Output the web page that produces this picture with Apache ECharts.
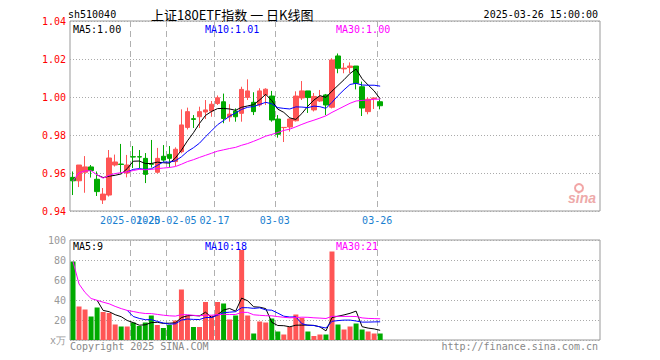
<!DOCTYPE html>
<html><head><meta charset="utf-8">
<script src="https://cdn.jsdelivr.net/npm/echarts@6/dist/echarts.min.js"></script>
<style>html,body{margin:0;padding:0;background:#fff}#c{width:660px;height:360px}</style>
</head><body><div id="c"></div>
<script>
// ---- data ----
const dates = ['2025-01-06','2025-01-07','2025-01-08','2025-01-09','2025-01-10','2025-01-13','2025-01-14','2025-01-15','2025-01-16','2025-01-17',
  '2025-01-20','2025-01-21','2025-01-22','2025-01-23','2025-01-24','2025-01-27',
  '2025-02-05','2025-02-06','2025-02-07','2025-02-10','2025-02-11','2025-02-12','2025-02-13','2025-02-14','2025-02-17','2025-02-18',
  '2025-02-19','2025-02-20','2025-02-21','2025-02-24','2025-02-25','2025-02-26','2025-02-27','2025-02-28',
  '2025-03-03','2025-03-04','2025-03-05','2025-03-06','2025-03-07','2025-03-10','2025-03-11','2025-03-12','2025-03-13','2025-03-14',
  '2025-03-17','2025-03-18','2025-03-19','2025-03-20','2025-03-21','2025-03-24','2025-03-25','2025-03-26'];
const opens = [0.9577,0.9559,0.9604,0.9632,0.9567,0.9458,0.9484,0.9642,0.9647,0.9600,
  0.9686,0.9686,0.9677,0.9648,0.9604,0.9688,0.9698,0.9660,0.9712,0.9840,
  0.9886,0.9896,0.9921,0.9926,0.9966,0.9975,0.9895,0.9926,0.9914,0.9998,
  0.9972,0.9958,1.0011,1.0005,0.9884,0.9839,0.9842,0.9875,0.9995,1.0032,
  0.9932,0.9979,1.0011,0.9946,1.0216,1.0148,1.0155,1.0163,1.0054,0.9923,
  0.9992,0.9975];
const closes = [0.9559,0.9642,0.9632,0.9613,0.9502,0.9489,0.9679,0.9658,0.9645,0.9642,
  0.9684,0.9684,0.9593,0.9646,0.9677,0.9668,0.9677,0.9725,0.9853,0.9923,
  0.9882,0.9923,0.9932,0.9962,0.9996,0.9887,0.9910,0.9896,1.0040,1.0032,
  0.9923,1.0032,1.0041,0.9879,0.9804,0.9840,0.9884,1.0005,1.0032,0.9997,
  1.0003,1.0000,0.9958,1.0195,1.0151,1.0152,1.0163,1.0072,0.9942,0.9988,
  0.9995,0.9954];
const lows = [0.9484,0.9526,0.9496,0.9576,0.9479,0.9437,0.9476,0.9634,0.9598,0.9577,
  0.9626,0.9626,0.9547,0.9629,0.9598,0.9659,0.9629,0.9637,0.9704,0.9829,
  0.9837,0.9837,0.9884,0.9896,0.9958,0.9862,0.9870,0.9870,0.9870,0.9984,
  0.9905,0.9949,0.9958,0.9870,0.9786,0.9763,0.9818,0.9871,0.9984,0.9916,
  0.9924,0.9974,0.9905,0.9940,1.0125,1.0125,1.0125,1.0040,0.9900,0.9909,
  0.9937,0.9935];
const highs = [0.9608,0.9642,0.9689,0.9642,0.9608,0.9521,0.9721,0.9697,0.9753,0.9695,
  0.9742,0.9721,0.9705,0.9774,0.9732,0.9747,0.9742,0.9735,0.9935,0.9944,
  0.9905,0.9949,0.9984,0.9979,1.0008,1.0018,0.9962,0.9940,1.0054,1.0093,
  1.0025,1.0046,1.0046,1.0032,0.9905,0.9840,0.9887,1.0030,1.0084,1.0032,
  1.0021,1.0037,1.0016,1.0204,1.0229,1.0179,1.0182,1.0163,1.0081,0.9998,
  0.9995,0.9988];
const ma5 = [null,null,null,null,0.9590,0.9576,0.9583,0.9588,0.9595,0.9623,
  0.9662,0.9663,0.9650,0.9650,0.9657,0.9654,0.9652,0.9679,0.9720,0.9769,
  0.9812,0.9861,0.9903,0.9924,0.9939,0.9940,0.9937,0.9930,0.9946,0.9953,
  0.9960,0.9985,1.0014,0.9981,0.9936,0.9919,0.9890,0.9882,0.9913,0.9952,
  0.9984,1.0007,0.9998,1.0031,1.0061,1.0091,1.0124,1.0147,1.0096,1.0063,
  1.0032,0.9990];
const ma10 = [null,null,null,null,null,null,null,null,null,0.9606,
  0.9619,0.9623,0.9619,0.9622,0.9640,0.9658,0.9657,0.9664,0.9685,0.9713,
  0.9733,0.9757,0.9791,0.9822,0.9854,0.9876,0.9899,0.9916,0.9935,0.9946,
  0.9950,0.9961,0.9972,0.9964,0.9944,0.9940,0.9937,0.9948,0.9947,0.9944,
  0.9952,0.9949,0.9940,0.9972,1.0007,1.0038,1.0066,1.0072,1.0063,1.0062,
  1.0062,1.0057];
const ma30 = [0.9559,0.9601,0.9611,0.9612,0.9590,0.9573,0.9588,0.9597,0.9602,0.9606,
  0.9613,0.9619,0.9617,0.9619,0.9623,0.9626,0.9629,0.9634,0.9646,0.9660,
  0.9670,0.9682,0.9693,0.9704,0.9715,0.9722,0.9729,0.9735,0.9746,0.9755,
  0.9767,0.9780,0.9794,0.9803,0.9813,0.9824,0.9831,0.9843,0.9856,0.9868,
  0.9878,0.9889,0.9901,0.9919,0.9935,0.9951,0.9967,0.9979,0.9982,0.9984,
  0.9988,0.9989];
const volumes = [78.5,33.5,30.5,23.5,32.5,28,27,15.5,13.5,13.5,
  17.5,14,17.5,24.5,15,12,15,19.5,50.5,24.5,
  13,13,38,24.5,38,36.5,20.5,24.5,90,24.5,
  6.5,18.5,17.5,21.5,8.5,5.5,13,25.5,22,8.5,
  4,5.5,5.5,88.5,15.5,10.5,13.5,16.5,10.5,8.5,
  6.5,6.5];
const volMa5 = [null,null,null,null,39.7,29.6,28.3,25.3,23.3,19.5,
  17.4,14.8,15.2,17.4,17.7,16.6,16.8,17.2,22.4,24.3,
  24.5,24.1,27.8,22.6,25.3,30,31.5,28.8,41.9,39.2,
  33.2,32.8,31.4,17.7,14.5,14.3,13.2,14.8,14.9,14.9,
  14.6,13.1,9.1,22.4,23.8,25.1,26.7,28.9,13.3,11.9,
  11.1,9.7];
const volMa10 = [null,null,null,null,null,null,null,null,null,29.6,
  23.5,21.6,20.3,20.4,18.6,17,15.8,16.2,19.9,21,
  20.6,20.5,22.5,22.5,24.8,27.3,27.8,28.3,32.3,32.3,
  31.6,32.2,30.1,29.8,26.9,23.8,23,23.1,16.3,14.7,
  14.5,13.2,12,18.7,19.4,19.9,19.9,19,17.9,17.9,
  18.1,18.2];
const volMa30 = [78.5,56,47.5,41.5,39.7,37.8,36.2,33.6,31.4,29.6,
  28.5,27.3,26.5,26.4,25.6,24.8,24.2,23.9,25.3,25.3,
  24.7,24.2,24.8,24.8,25.3,25.7,25.5,25.5,27.7,27.6,
  25.2,24.7,24.3,24.2,23.4,22.7,22.2,22.5,22.8,22.7,
  22.2,21.9,21.5,23.7,23.7,23.6,23.6,23.5,22.1,21.6,
  21.4,21.2];
const tickDates = ['2025-01-20','2025-02-05','2025-02-17','2025-03-03','2025-03-26'];
const tickLabels = ['2025-01-20','2025-02-05','02-17','03-03','03-26'];
const priceTicks = [0.94, 0.96, 0.98, 1.00, 1.02, 1.04];
const volumeTicks = [0, 20, 40, 60, 80, 100];

// ---- chart ----
const SLOTS = 88;
const MONO = '"DejaVu Sans Mono", monospace';
const UP = '#ff5555', DOWN = '#00aa00';
const slotCats = [];
for (let i = 0; i < SLOTS; i++) slotCats.push(i < dates.length ? dates[i] : 'pad' + i);
const edgeCats = [];
for (let i = 0; i <= SLOTS; i++) edgeCats.push(i < dates.length ? dates[i] : 'edge' + i);
const isTick = v => tickDates.indexOf(v) >= 0;
const candleData = dates.map((d, i) => [opens[i], closes[i], lows[i], highs[i]]);
const volData = volumes.map((v, i) => ({ value: v, itemStyle: { color: closes[i] >= opens[i] ? UP : DOWN } }));
const last = a => a[a.length - 1];

const hiddenCat = (grid) => ({
  type: 'category', gridIndex: grid, data: slotCats, boundaryGap: true,
  axisLine: { show: false }, axisTick: { show: false }, axisLabel: { show: false }, splitLine: { show: false }
});
const edgeCat = (grid, labels) => ({
  type: 'category', gridIndex: grid, data: edgeCats, boundaryGap: false, position: 'bottom',
  axisLine: { show: false }, axisTick: { show: false },
  axisLabel: {
    show: labels, interval: 0, color: '#1a7fd0', fontFamily: MONO, fontSize: 10, margin: 4,
    formatter: v => { const j = tickDates.indexOf(v); return j >= 0 ? tickLabels[j] : ''; }
  },
  splitLine: { show: true, interval: (i, v) => isTick(v), lineStyle: { color: '#b0b0b0', type: [6, 4], width: 1 } }
});

const lineS = (data, color, xi, yi) => ({
  type: 'line', data: data, xAxisIndex: xi, yAxisIndex: yi, symbol: 'none', showSymbol: false,
  lineStyle: { color: color, width: 1 }, itemStyle: { color: color }, z: 5, connectNulls: false, silent: true
});

const T = (x, y, text, fill, font, align) => ({
  type: 'text', x: x, y: y, silent: true,
  style: { text: text, fill: fill, font: font || ('10px ' + MONO), textAlign: align || 'left', textVerticalAlign: 'middle' }
});

const option = {
  animation: false,
  backgroundColor: '#ffffff',
  grid: [
    { left: 70, top: 21, width: 530, height: 190, show: true, borderColor: '#999', borderWidth: 1, backgroundColor: 'transparent' },
    { left: 70, top: 240, width: 530, height: 100, show: true, borderColor: '#999', borderWidth: 1, backgroundColor: 'transparent' }
  ],
  xAxis: [hiddenCat(0), edgeCat(0, true), hiddenCat(1), edgeCat(1, false)],
  yAxis: [
    {
      type: 'value', gridIndex: 0, min: priceTicks[0], max: last(priceTicks), interval: 0.02,
      axisLine: { show: false }, axisTick: { show: false },
      axisLabel: { color: '#ff0000', fontFamily: MONO, fontSize: 10, margin: 4, formatter: v => v.toFixed(2) },
      splitLine: { show: true, lineStyle: { color: '#aaa', type: [1, 2], width: 1 } }
    },
    {
      type: 'value', gridIndex: 1, min: volumeTicks[0], max: last(volumeTicks), interval: 20,
      axisLine: { show: false }, axisTick: { show: false },
      axisLabel: { color: '#999', fontFamily: MONO, fontSize: 10, margin: 4, formatter: v => v === 0 ? 'x万' : String(v) },
      splitLine: { show: true, lineStyle: { color: '#aaa', type: [1, 2], width: 1 } }
    }
  ],
  series: [
    {
      type: 'candlestick', data: candleData, xAxisIndex: 0, yAxisIndex: 0, barWidth: 5, silent: true,
      itemStyle: { color: UP, color0: DOWN, borderColor: UP, borderColor0: DOWN, borderWidth: 1 }
    },
    lineS(ma5, '#000000', 0, 0),
    lineS(ma10, '#0000ff', 0, 0),
    lineS(ma30, '#ff00ff', 0, 0),
    { type: 'bar', data: volData, xAxisIndex: 2, yAxisIndex: 1, barWidth: 5, silent: true },
    lineS(volMa5, '#000000', 2, 1),
    lineS(volMa10, '#0000ff', 2, 1),
    lineS(volMa30, '#ff00ff', 2, 1)
  ],
  graphic: [
    T(68, 14, 'sh510040', '#000'),
    T(151, 14, '上证180ETF指数 一 日K线图', '#000', '13px "Noto Sans CJK SC"'),
    T(598, 14, '2025-03-26 15:00:00', '#000', null, 'right'),
    T(73, 29, 'MA5:' + last(ma5).toFixed(2), '#000'),
    T(205, 29, 'MA10:' + last(ma10).toFixed(2), '#0000ff'),
    T(336, 29, 'MA30:' + last(ma30).toFixed(2), '#ff00ff'),
    T(73, 246, 'MA5:' + Math.floor(last(volMa5)), '#000'),
    T(205, 246, 'MA10:' + Math.floor(last(volMa10)), '#0000ff'),
    T(336, 246, 'MA30:' + Math.floor(last(volMa30)), '#ff00ff'),
    T(70, 346, 'Copyright 2025 SINA.COM', '#888'),
    T(598, 346, 'http://finance.sina.com.cn', '#888', null, 'right'),
    { type: 'circle', silent: true, shape: { cx: 579, cy: 188, r: 4 }, style: { fill: 'none', stroke: '#f2a6a6', lineWidth: 2 } },
    T(582, 198, 'sina', '#eeaaaa', 'italic bold 14px "Liberation Sans"', 'center')
  ]
};
const chart = echarts.init(document.getElementById('c'), null, { renderer: 'svg', width: 660, height: 360 });
chart.setOption(option);
</script>
</body></html>
